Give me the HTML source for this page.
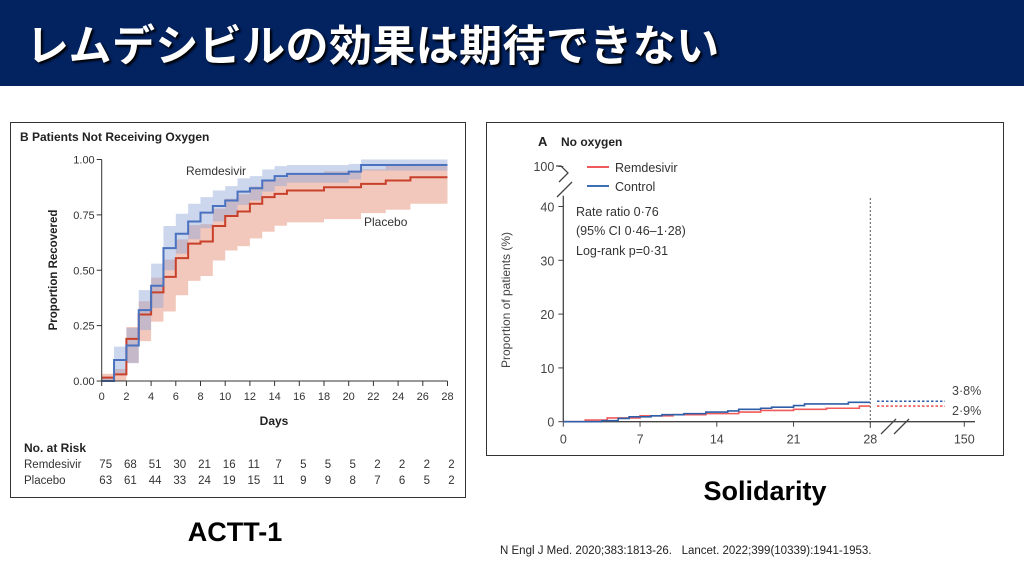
<!DOCTYPE html>
<html><head><meta charset="utf-8">
<style>
body{margin:0;width:1024px;height:576px;background:#fff;position:relative;overflow:hidden;font-family:"Liberation Sans","Noto Sans CJK JP",sans-serif}
.bar{position:absolute;left:0;top:0;width:1024px;height:86px;background:#022260}
.title{position:absolute;left:26px;top:12px;color:#fff;font:bold 43px "Noto Sans CJK JP",sans-serif;letter-spacing:0.4px;white-space:nowrap;text-shadow:2px 2px 2px #000}
svg{position:absolute;left:0;top:0}
</style></head><body>
<div class="bar"></div>
<div class="title">レムデシビルの効果は期待できない</div>
<svg width="1024" height="576" viewBox="0 0 1024 576" font-family="Liberation Sans, sans-serif">
<rect x="10.5" y="122.5" width="455" height="375" fill="none" stroke="#333" stroke-width="1"/>
<text x="20" y="141" font-size="12" font-weight="bold" fill="#222">B  Patients Not Receiving Oxygen</text>
<g id="L"></g>
<rect x="486.5" y="122.5" width="517" height="333" fill="none" stroke="#333" stroke-width="1"/>
<text x="538" y="146" font-size="13" font-weight="bold" fill="#222">A</text>
<text x="561" y="146" font-size="12" font-weight="bold" fill="#222">No oxygen</text>
<g id="R"></g>
<text x="235" y="541" font-size="27" font-weight="bold" text-anchor="middle" fill="#000">ACTT-1</text>
<text x="765" y="500" font-size="27" font-weight="bold" text-anchor="middle" fill="#000">Solidarity</text>
<text x="500" y="554" font-size="11.5" fill="#222" xml:space="preserve">N Engl J Med. 2020;383:1813-26.   Lancet. 2022;399(10339):1941-1953.</text>
</svg>
<script>
var NS="http://www.w3.org/2000/svg";
function el(p,t,a,txt){var e=document.createElementNS(NS,t);for(var k in a)e.setAttribute(k,a[k]);if(txt!=null)e.textContent=txt;p.appendChild(e);return e;}
var L=document.getElementById('L');
var x0=101.7,dx=12.35,y0=381,yh=221.5;
function X(d){return x0+d*dx} function Y(v){return y0-v*yh}
var blue=[0,.095,.16,.32,.43,.60,.665,.72,.76,.79,.815,.855,.87,.905,.925,.935,.935,.935,.935,.935,.945,.975,.975,.975,.975,.975,.975,.975];
var red=[.015,.03,.19,.30,.40,.47,.555,.62,.63,.70,.745,.765,.80,.83,.845,.86,.86,.86,.875,.875,.875,.89,.89,.905,.905,.92,.92,.92];
var bw=[.02,.06,.08,.09,.1,.1,.09,.08,.07,.07,.065,.06,.055,.05,.045,.04,.04,.04,.04,.04,.035,.025,.025,.025,.025,.025,.025,.025];
var rw=[.03,.04,.09,.1,.11,.13,.14,.14,.13,.13,.13,.13,.13,.13,.12,.12,.12,.12,.12,.12,.12,.11,.11,.11,.11,.1,.1,.1];
function step(arr){var s="";for(var i=0;i<28;i++){var v=arr[i];s+=(i==0?"M":"L")+X(i)+","+Y(v)+"L"+X(i+1)+","+Y(v);}return s;}
function band(arr,w,up,lo){var s="";for(var i=0;i<28;i++){var v=Math.min(1,arr[i]+w[i]*up);s+=(i==0?"M":"L")+X(i)+","+Y(v)+"L"+X(i+1)+","+Y(v);}
 for(var i=27;i>=0;i--){var v=Math.max(0,arr[i]-w[i]*lo);s+="L"+X(i+1)+","+Y(v)+"L"+X(i)+","+Y(v);}return s+"Z";}
el(L,'path',{d:band(red,rw,0.6,1.2),fill:'#e2846a','fill-opacity':.45});
el(L,'path',{d:band(blue,bw,1,1),fill:'#8ea3d8','fill-opacity':.45});
el(L,'path',{d:step(red),fill:'none',stroke:'#c8402a','stroke-width':2});
el(L,'path',{d:step(blue),fill:'none',stroke:'#4a72bf','stroke-width':2});
el(L,'line',{x1:x0,y1:Y(1),x2:x0,y2:y0,stroke:'#333'});
el(L,'line',{x1:x0,y1:y0,x2:X(28),y2:y0,stroke:'#333'});
["0.00","0.25","0.50","0.75","1.00"].forEach(function(t,i){var y=Y(i*.25);el(L,'line',{x1:x0-5,y1:y,x2:x0,y2:y,stroke:'#333'});el(L,'text',{x:x0-7,y:y+4,'font-size':11,'text-anchor':'end',fill:'#333'},t);});
for(var d=0;d<=28;d+=2){el(L,'line',{x1:X(d),y1:y0,x2:X(d),y2:y0+5,stroke:'#333'});el(L,'text',{x:X(d),y:y0+19,'font-size':11,'text-anchor':'middle',fill:'#333'},d);}
el(L,'text',{x:274,y:425,'font-size':12,'font-weight':'bold','text-anchor':'middle',fill:'#222'},'Days');
el(L,'text',{x:0,y:0,'font-size':11.5,'font-weight':'bold','text-anchor':'middle',fill:'#222',transform:'translate(57,270) rotate(-90)'},'Proportion Recovered');
el(L,'text',{x:186,y:175,'font-size':12,fill:'#333'},'Remdesivir');
el(L,'text',{x:364,y:226,'font-size':12,fill:'#333'},'Placebo');
el(L,'text',{x:24,y:452,'font-size':12,'font-weight':'bold',fill:'#222'},'No. at Risk');
el(L,'text',{x:24,y:468,'font-size':11.5,fill:'#333'},'Remdesivir');
el(L,'text',{x:24,y:484,'font-size':11.5,fill:'#333'},'Placebo');
var rr=[75,68,51,30,21,16,11,7,5,5,5,2,2,2,2],pp=[63,61,44,33,24,19,15,11,9,9,8,7,6,5,2];
for(var i=0;i<15;i++){el(L,'text',{x:X(i*2)+4,y:468,'font-size':11.5,'text-anchor':'middle',fill:'#333'},rr[i]);el(L,'text',{x:X(i*2)+4,y:484,'font-size':11.5,'text-anchor':'middle',fill:'#333'},pp[i]);}
var R=document.getElementById('R');
var rx0=563.3,rdx=(870.3-563.3)/28,ry0=421.7,rpy=5.38;
function RX(d){return rx0+d*rdx} function RY(v){return ry0-v*rpy}
el(R,'line',{x1:rx0,y1:RY(42),x2:rx0,y2:ry0,stroke:'#444','stroke-width':1.3});
el(R,'line',{x1:rx0,y1:ry0,x2:975,y2:ry0,stroke:'#444','stroke-width':1.3});
el(R,'path',{d:'M556,166 H561 L568,173 L559,182',fill:'none',stroke:'#444','stroke-width':1.3});
el(R,'path',{d:'M557,197 L572,182',fill:'none',stroke:'#444','stroke-width':1.3});
el(R,'path',{d:'M881,434 L896,419 M894,434 L909,419',fill:'none',stroke:'#444','stroke-width':1.3});
el(R,'line',{x1:rx0-5,y1:166.5,x2:rx0,y2:166.5,stroke:'#444'});
el(R,'text',{x:rx0-9,y:171,'font-size':12.5,'text-anchor':'end',fill:'#444'},'100');
[0,10,20,30,40].forEach(function(t){var y=RY(t);el(R,'line',{x1:rx0-5,y1:y,x2:rx0,y2:y,stroke:'#444'});el(R,'text',{x:rx0-9,y:y+5,'font-size':12.5,'text-anchor':'end',fill:'#444'},t);});
[0,7,14,21,28].forEach(function(d){el(R,'line',{x1:RX(d),y1:ry0,x2:RX(d),y2:ry0+5,stroke:'#444'});el(R,'text',{x:RX(d),y:ry0+22,'font-size':12.5,'text-anchor':'middle',fill:'#444'},d);});
el(R,'line',{x1:964.3,y1:ry0,x2:964.3,y2:ry0+5,stroke:'#444'});
el(R,'text',{x:964.3,y:ry0+22,'font-size':12.5,'text-anchor':'middle',fill:'#444'},'150');
el(R,'text',{x:0,y:0,'font-size':12,'text-anchor':'middle',fill:'#444',transform:'translate(510,300) rotate(-90)'},'Proportion of patients (%)');
el(R,'line',{x1:587,y1:167,x2:609,y2:167,stroke:'#f05a5a','stroke-width':2});
el(R,'line',{x1:587,y1:186,x2:609,y2:186,stroke:'#3d6fb6','stroke-width':2});
el(R,'text',{x:615,y:172,'font-size':12.5,fill:'#333'},'Remdesivir');
el(R,'text',{x:615,y:191,'font-size':12.5,fill:'#333'},'Control');
el(R,'text',{x:576,y:216,'font-size':12.5,fill:'#333'},'Rate ratio 0·76');
el(R,'text',{x:576,y:235,'font-size':12.5,fill:'#333'},'(95% CI 0·46–1·28)');
el(R,'text',{x:576,y:255,'font-size':12.5,fill:'#333'},'Log-rank p=0·31');
el(R,'line',{x1:870.3,y1:198,x2:870.3,y2:428,stroke:'#555','stroke-dasharray':'2,2'});
function rstep(pts){var s="M"+RX(0)+","+RY(0);var prev=0;pts.forEach(function(p){s+="L"+RX(p[0])+","+RY(prev)+"L"+RX(p[0])+","+RY(p[1]);prev=p[1];});return s+"L"+RX(28)+","+RY(prev);}
var bp=[[3.5,.2],[5,.6],[6,.9],[8,1.1],[9,1.3],[11,1.5],[13,1.8],[15,2.0],[16,2.3],[18,2.5],[19,2.7],[21,3.0],[22,3.3],[26,3.6]];
var rp=[[2,.3],[4,.7],[7,1.1],[10,1.3],[13,1.5],[16,1.8],[18,2.1],[21,2.3],[24,2.5],[27,2.9]];
el(R,'path',{d:rstep(rp),fill:'none',stroke:'#f05a5a','stroke-width':1.6});
el(R,'path',{d:rstep(bp),fill:'none',stroke:'#2e5ea8','stroke-width':1.6});
el(R,'line',{x1:877,y1:RY(3.8),x2:945,y2:RY(3.8),stroke:'#2e5ea8','stroke-width':1.6,'stroke-dasharray':'2.5,2'});
el(R,'line',{x1:877,y1:RY(2.9),x2:945,y2:RY(2.9),stroke:'#f05a5a','stroke-width':1.6,'stroke-dasharray':'2.5,2'});
el(R,'text',{x:952,y:395,'font-size':12.5,fill:'#444'},'3·8%');
el(R,'text',{x:952,y:415,'font-size':12.5,fill:'#444'},'2·9%');
</script>
</body></html>
